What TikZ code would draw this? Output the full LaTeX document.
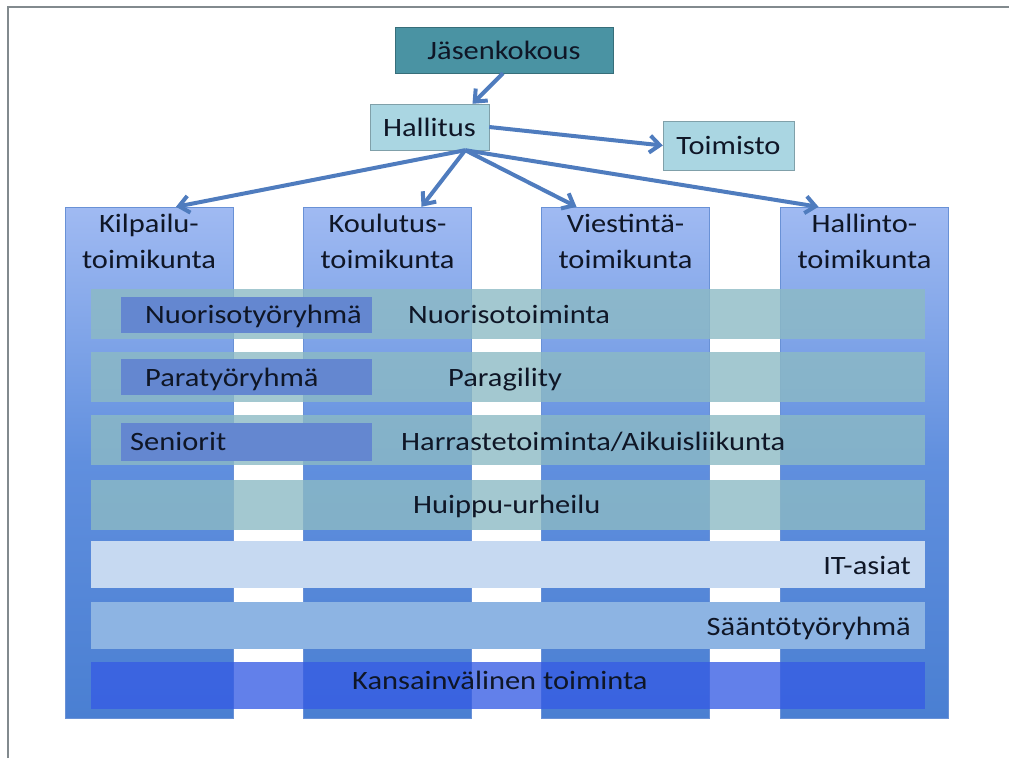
\documentclass[tikz,border=0pt]{standalone}
\usepackage{fontspec}
\setmainfont{Carlito}[FakeStretch=1.15]
\usetikzlibrary{arrows.meta}

\definecolor{colTop}{RGB}{160,186,242}
\definecolor{colMid}{RGB}{96,143,222}
\definecolor{colBot}{RGB}{74,127,210}
\definecolor{colEdge}{RGB}{105,145,214}
\definecolor{bandTeal}{RGB}{140,186,196}
\definecolor{bandIT}{RGB}{198,217,241}
\definecolor{bandRule}{RGB}{141,180,227}
\definecolor{bandKv}{RGB}{54,92,228}
\definecolor{subBlue}{RGB}{100,135,208}
\definecolor{meetTeal}{RGB}{74,147,163}
\definecolor{boardBlue}{RGB}{170,214,226}
\definecolor{arrowBlue}{RGB}{79,124,190}
\definecolor{frameGray}{RGB}{130,138,142}
\definecolor{inkDark}{RGB}{15,22,38}

\tikzset{
	colbox/.style={draw=colEdge, top color=colTop, bottom color=colBot, middle color=colMid,
		minimum width=168pt, minimum height=511pt, inner sep=0pt},
	band/.style={minimum width=834pt, inner sep=0pt},
	subbox/.style={fill=subBlue, minimum width=251pt, inner sep=0pt},
	topbox/.style={draw=#1!75!black, fill=#1, inner sep=0pt},
	linkarrow/.style={draw=arrowBlue, line width=4pt, -{Straight Barb[length=10pt,width=17pt]}},
	lbl/.style={text=inkDark, inner sep=0pt, font=\fontsize{26.5}{36}\selectfont},
}

\begin{document}
\begin{tikzpicture}[x=1pt,y=-1pt]
\useasboundingbox (0,0) rectangle (1009,758);

%Frame
\draw[frameGray, line width=1.5pt] (8,758) -- (8,7) -- (1009,7);

%Columns
\node [colbox]  (kilpailu)at (149,462.5) {};
\node [colbox]  (koulutus)at (387.5,462.5) {};
\node [colbox]  (viestinta)at (625.5,462.5) {};
\node [colbox]  (hallinto)at (864.5,462.5) {};

\node [lbl, align=center, anchor=base]  (kilpailutext)at (149,268) {Kilpailu-\\toimikunta};
\node [lbl, align=center, anchor=base]  (koulutustext)at (387.5,268) {Koulutus-\\toimikunta};
\node [lbl, align=center, anchor=base]  (viestintatext)at (625.5,268) {Viestintä-\\toimikunta};
\node [lbl, align=center, anchor=base]  (hallintotext)at (864.5,268) {Hallinto-\\toimikunta};

%Bands
\node [band, fill=bandTeal, fill opacity=0.8, minimum height=50pt]  (nuoriso)at (508,313.5) {};
\node [band, fill=bandTeal, fill opacity=0.8, minimum height=50pt]  (para)at (508,377) {};
\node [band, fill=bandTeal, fill opacity=0.8, minimum height=50pt]  (harraste)at (508,440) {};
\node [band, fill=bandTeal, fill opacity=0.8, minimum height=50pt]  (huippu)at (508,505) {};
\node [band, fill=bandIT, minimum height=47pt]  (itasiat)at (508,564.5) {};
\node [band, fill=bandRule, minimum height=47pt]  (saanto)at (508,625) {};
\node [band, fill=bandKv, fill opacity=0.78, minimum height=47pt]  (kansainv)at (508,685) {};

%Working groups
\node [subbox, minimum height=36pt]  (nuorisoryhma)at (246.5,315) {};
\node [subbox, minimum height=36pt]  (pararyhma)at (246.5,377) {};
\node [subbox, minimum height=38pt]  (seniorit)at (246.5,442) {};

%Band texts
\node [lbl, anchor=base west]  (nuorisoryhmatext)at (145,323) {Nuorisotyöryhmä};
\node [lbl, anchor=base west]  (pararyhmatext)at (145,386) {Paratyöryhmä};
\node [lbl, anchor=base west]  (senioritext)at (130,450) {Seniorit};
\node [lbl, anchor=base west]  (nuorisotext)at (408,323) {Nuorisotoiminta};
\node [lbl, anchor=base west]  (paratext)at (448,386) {Paragility};
\node [lbl, anchor=base west]  (harrastetext)at (401,450) {Harrastetoiminta/Aikuisliikunta};
\node [lbl, anchor=base west]  (huipputext)at (413,513) {Huippu-urheilu};
\node [lbl, anchor=base east]  (ittext)at (911,574) {IT-asiat};
\node [lbl, anchor=base east]  (saantotext)at (911,635) {Sääntötyöryhmä};
\node [lbl, anchor=base west]  (kansainvtext)at (352,689) {Kansainvälinen toiminta};

%Top
\node [topbox=meetTeal, minimum width=218pt, minimum height=46pt]  (jasen)at (504,50) {};
\node [lbl]  (jasentext)at (jasen.center) {Jäsenkokous};
\node [topbox=boardBlue, minimum width=119pt, minimum height=46pt]  (hallitus)at (429.5,127) {};
\node [lbl]  (hallitustext)at (hallitus.center) {Hallitus};
\node [topbox=boardBlue, minimum width=131pt, minimum height=49pt]  (toimisto)at (728.5,145.5) {};
\node [lbl]  (toimistotext)at (toimisto.center) {Toimisto};

%Arrows
\coordinate (hsrc) at ([xshift=-24pt]hallitus.south east);
\draw[linkarrow]  ([xshift=-1pt]jasen.south)--([xshift=43pt]hallitus.north);
\draw[linkarrow]  (hallitus.east)--(toimisto.west);
\draw[linkarrow]  (hsrc)--([xshift=27pt]kilpailu.north);
\draw[linkarrow]  (hsrc)--([xshift=34pt]koulutus.north);
\draw[linkarrow]  (hsrc)--([xshift=-49pt]viestinta.north);
\draw[linkarrow]  (hsrc)--([xshift=-46pt]hallinto.north);

\end{tikzpicture}
\end{document}
